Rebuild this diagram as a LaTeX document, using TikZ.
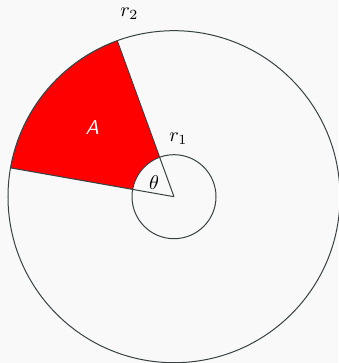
\documentclass[tikz,border=0pt]{standalone}
\usepackage{amsmath}
\usepackage{tikz}
\usetikzlibrary{positioning}
\definecolor{linegray}{RGB}{55,66,66}
\definecolor{bggray}{RGB}{249,249,249}

\begin{document}
\begin{tikzpicture}[
    x=0.5pt, y=0.5pt,
    edge/.style={draw=linegray, line width=0.5pt},
    lbl/.style={inner sep=0pt, font=\normalsize}
]
    % Background and frame
    \fill[bggray] (-174,-166.3) rectangle (164,196.7);
    \useasboundingbox (-174,-166.3) rectangle (164,196.7);
    \coordinate (O) at (0,0);

    % Shaded sector
    \fill[red] (110:42) -- (110:166)
        arc[start angle=110, end angle=170, radius=166]
        -- (170:42) arc[start angle=170, end angle=110, radius=42] -- cycle;

    % Circles and radii
    \draw[edge] (O) circle[radius=42];
    \draw[edge] (O) circle[radius=166];
    \draw[edge] (O) -- (110:166);
    \draw[edge] (O) -- (170:166);

    % Labels
    \node[lbl] (theta) at (-20,14) {$\theta$};
    \node[lbl, text=white] (area) at (-81.7,69) {\textsf{\textit{A}}};
    \node[lbl] (rtwo) at (-44.7,182.7) {$r_2$};
    \node[lbl] (rone) at (4.3,58.4) {$r_1$};
\end{tikzpicture}
\end{document}
